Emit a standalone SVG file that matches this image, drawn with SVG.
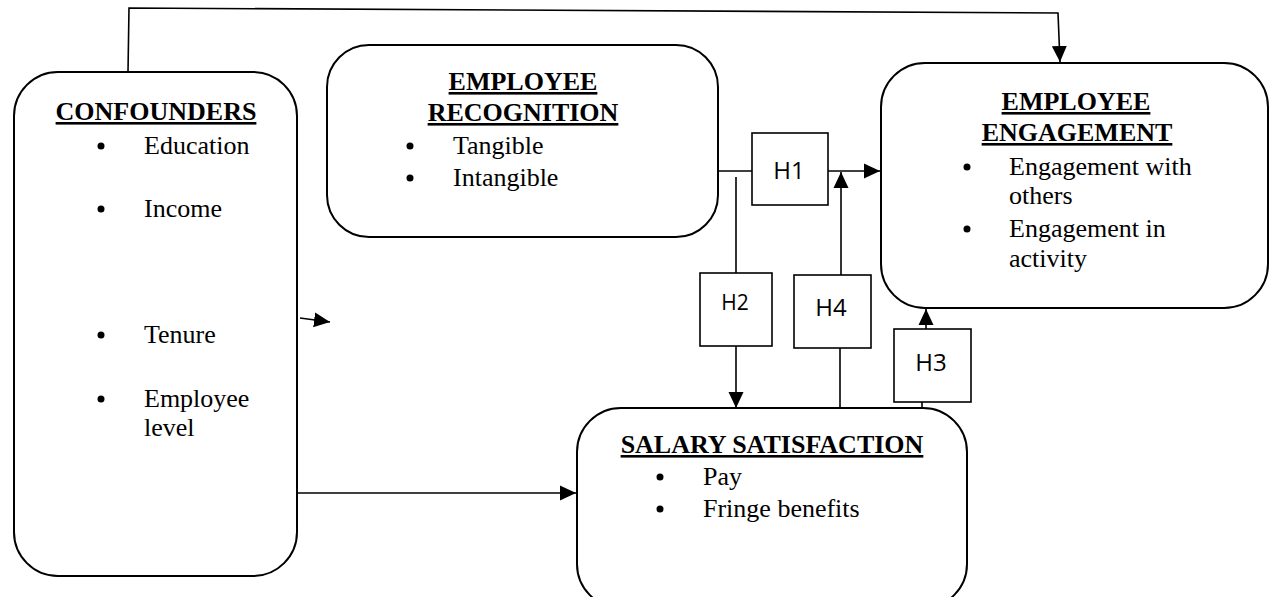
<svg xmlns="http://www.w3.org/2000/svg" width="1272" height="597" viewBox="0 0 1272 597">
<style>
.box{fill:#fff;stroke:#000;stroke-width:2}
.hbox{fill:#fff;stroke:#000;stroke-width:1.6}
.ln{fill:none;stroke:#000;stroke-width:1.6}
.t{font-family:"Liberation Serif","Times New Roman",serif;font-size:26px;fill:#000}
.ttl{font-family:"Liberation Serif","Times New Roman",serif;font-size:26px;font-weight:bold;text-decoration:underline;fill:#000;text-anchor:middle}
.h{font-family:"Open Sans","Noto Sans",sans-serif;font-size:24px;fill:#000;text-anchor:middle}
.bul{fill:#000}
</style>
<defs>
<marker id="arr" markerUnits="userSpaceOnUse" markerWidth="18" markerHeight="16" refX="16" refY="8" orient="auto">
<path d="M0,0.5 L16,8 L0,15.5 Z" fill="#000"/>
</marker>
</defs>

<g id="connectors">
<polyline class="ln" points="128,72 129,8 1058,13 1060,62" marker-end="url(#arr)"/>
<line class="ln" x1="300" y1="318" x2="330" y2="322" marker-end="url(#arr)"/>
<line class="ln" x1="297" y1="493" x2="576" y2="493" marker-end="url(#arr)"/>
<line class="ln" x1="718" y1="171" x2="752" y2="171"/>
<line class="ln" x1="828" y1="171" x2="880" y2="171" marker-end="url(#arr)"/>
<line class="ln" x1="736" y1="177" x2="736" y2="273"/>
<line class="ln" x1="736" y1="346" x2="736" y2="408" marker-end="url(#arr)"/>
<line class="ln" x1="840" y1="408" x2="840" y2="348"/>
<line class="ln" x1="841" y1="275" x2="841" y2="172" marker-end="url(#arr)"/>
<line class="ln" x1="922" y1="408" x2="922" y2="402"/>
<line class="ln" x1="926" y1="329" x2="926" y2="309" marker-end="url(#arr)"/>
</g>

<g id="confounders">
<rect class="box" x="14" y="72" width="283" height="504" rx="44" ry="44"/>
<text class="ttl" x="156" y="120">CONFOUNDERS</text>
<circle class="bul" cx="101" cy="146" r="3.5"/>
<text class="t" x="144" y="154">Education</text>
<circle class="bul" cx="101" cy="209" r="3.5"/>
<text class="t" x="144" y="217">Income</text>
<circle class="bul" cx="101" cy="335" r="3.5"/>
<text class="t" x="144" y="343">Tenure</text>
<circle class="bul" cx="101" cy="399" r="3.5"/>
<text class="t" x="144" y="407">Employee</text>
<text class="t" x="144" y="436">level</text>
</g>

<g id="recognition">
<rect class="box" x="327" y="45" width="391" height="192" rx="42" ry="42"/>
<text class="ttl" x="523" y="90">EMPLOYEE</text>
<text class="ttl" x="523" y="121">RECOGNITION</text>
<circle class="bul" cx="410" cy="146" r="3.5"/>
<text class="t" x="453" y="154">Tangible</text>
<circle class="bul" cx="410" cy="178" r="3.5"/>
<text class="t" x="453" y="186">Intangible</text>
</g>

<g id="engagement">
<rect class="box" x="881" y="63" width="387" height="245" rx="44" ry="44"/>
<text class="ttl" x="1076" y="110">EMPLOYEE</text>
<text class="ttl" x="1077" y="141">ENGAGEMENT</text>
<circle class="bul" cx="967" cy="167" r="3.5"/>
<text class="t" x="1009" y="175">Engagement with</text>
<text class="t" x="1009" y="204">others</text>
<circle class="bul" cx="967" cy="229" r="3.5"/>
<text class="t" x="1009" y="237">Engagement in</text>
<text class="t" x="1009" y="267">activity</text>
</g>

<g id="salary">
<rect class="box" x="577" y="408" width="390" height="200" rx="44" ry="44"/>
<text class="ttl" x="772" y="453">SALARY SATISFACTION</text>
<circle class="bul" cx="660" cy="477" r="3.5"/>
<text class="t" x="703" y="485">Pay</text>
<circle class="bul" cx="660" cy="509" r="3.5"/>
<text class="t" x="703" y="517">Fringe benefits</text>
</g>

<g id="h1">
<rect class="hbox" x="752" y="133" width="76" height="72"/>
<text class="h" x="789" y="179">H1</text>
</g>
<g id="h2">
<rect class="hbox" x="700" y="273" width="72" height="73"/>
<text class="h" x="735" y="310" style="font-size:21px">H2</text>
</g>
<g id="h4">
<rect class="hbox" x="794" y="275" width="77" height="73"/>
<text class="h" x="831" y="316">H4</text>
</g>
<g id="h3">
<rect class="hbox" x="894" y="329" width="77" height="73"/>
<text class="h" x="931" y="371">H3</text>
</g>
</svg>
